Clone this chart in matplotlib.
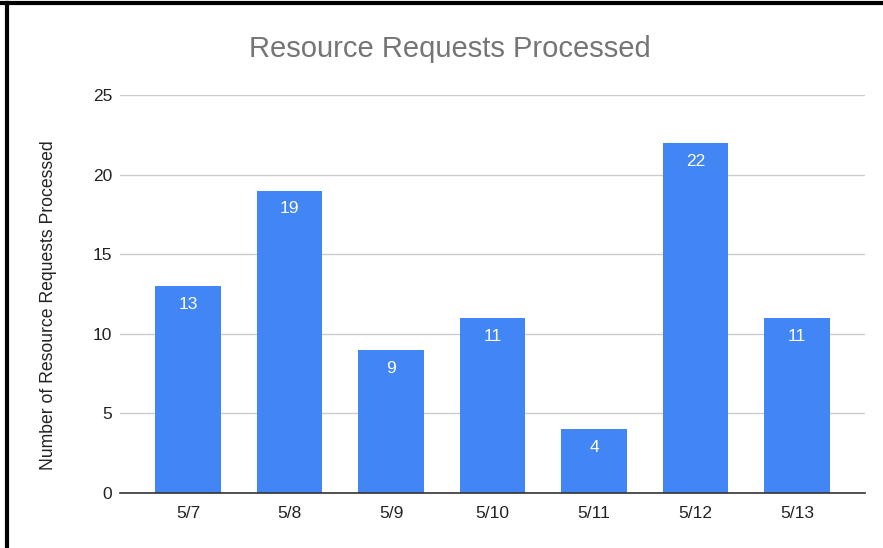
import matplotlib
matplotlib.use("Agg")
import matplotlib.pyplot as plt
from matplotlib.lines import Line2D

categories = ["5/7", "5/8", "5/9", "5/10", "5/11", "5/12", "5/13"]
values = [13, 19, 9, 11, 4, 22, 11]
yticks = [0, 5, 10, 15, 20, 25]

plt.rcParams['font.family'] = ['Liberation Sans', 'DejaVu Sans']

fig = plt.figure(figsize=(8.83, 5.48), dpi=100)
ax = fig.add_axes([120/883, 1-493/548, 745/883, (493-95)/548])

x = list(range(len(categories)))
ax.bar(x, values, width=0.65, color="#4285F4", zorder=3)
for xi, v in zip(x, values):
    ax.annotate(str(v), (xi, v), xytext=(0, -13.3), textcoords="offset points",
                ha="center", va="center", color="white", fontsize=12.5, zorder=4)

ax.set_xlim(-0.67, 6.67)
ax.set_ylim(0, 25)
ax.set_yticks(yticks)
ax.set_xticks(x)
ax.set_xticklabels(categories)
ax.tick_params(axis='both', length=0, labelsize=12.5, colors="#222222")
ax.tick_params(axis='y', pad=5.5)
ax.tick_params(axis='x', pad=9)
ax.grid(axis='y', color="#cccccc", linewidth=1, zorder=0)
for s in ['top', 'right', 'left']:
    ax.spines[s].set_visible(False)
ax.spines['bottom'].set_color("#333333")
ax.spines['bottom'].set_linewidth(1.2)
ax.spines['bottom'].set_zorder(5)

ax.set_ylabel("Number of Resource Requests Processed", fontsize=12.7, color="#222222")
ax.yaxis.set_label_coords((57-120)/745, (493-305)/398)
fig.text(450/883, 1-49/548, "Resource Requests Processed", ha="center", va="center",
         fontsize=21, color="#757575")

# frame lines
fig.add_artist(Line2D([0, 1], [1-3/548, 1-3/548], transform=fig.transFigure, color="black", linewidth=3))
fig.add_artist(Line2D([6.5/883, 6.5/883], [0, 1-3/548], transform=fig.transFigure, color="black", linewidth=3))

fig.savefig("out.png", dpi=100)
